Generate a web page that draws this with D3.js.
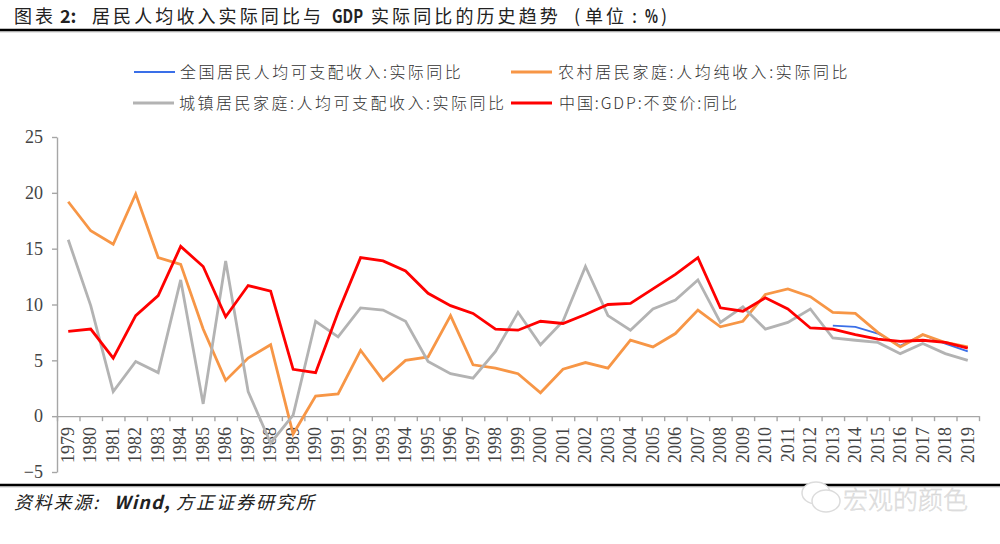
<!DOCTYPE html>
<html>
<head>
<meta charset="utf-8">
<script src="https://cdn.jsdelivr.net/npm/d3@7"></script>
<style>
  html, body { margin: 0; padding: 0; background: #fff; }
  text { font-family: "Noto Sans CJK SC", sans-serif; }
  .num text, text.num { font-family: "Liberation Serif", serif; }
</style>
</head>
<body>
<div id="chart"></div>
<script>
// values
const years = d3.range(1979, 2020).map(String);
const yTicks = [-5, 0, 5, 10, 15, 20, 25];

const national = [8.1, 8.0, 7.4, 6.3, 7.3, 6.5, 5.8];
const nationalYears = ['2013', '2014', '2015', '2016', '2017', '2018', '2019'];

const rural = [19.2, 16.6, 15.4, 19.9, 14.2, 13.6, 7.8, 3.2, 5.2, 6.4, -1.6, 1.8, 2.0, 5.9, 3.2, 5.0, 5.3, 9.0, 4.6, 4.3, 3.8,
  2.1, 4.2, 4.8, 4.3, 6.8, 6.2, 7.4, 9.5, 8.0, 8.5, 10.9, 11.4, 10.7, 9.3, 9.2, 7.5, 6.2, 7.3, 6.6, 6.2];
const urban = [15.8, 9.9, 2.2, 4.9, 3.9, 12.2, 1.1, 13.9, 2.2, -2.4, 0.1, 8.5, 7.1, 9.7, 9.5, 8.5, 4.9, 3.8, 3.4, 5.8, 9.3,
  6.4, 8.5, 13.4, 9.0, 7.7, 9.6, 10.4, 12.2, 8.4, 9.8, 7.8, 8.4, 9.6, 7.0, 6.8, 6.6, 5.6, 6.5, 5.6, 5.0];
const gdp = [7.6, 7.8, 5.2, 9.0, 10.8, 15.2, 13.4, 8.9, 11.7, 11.2, 4.2, 3.9, 9.3, 14.2, 13.9, 13.0, 11.0, 9.9, 9.2, 7.8, 7.7,
  8.5, 8.3, 9.1, 10.0, 10.1, 11.4, 12.7, 14.2, 9.7, 9.4, 10.6, 9.6, 7.9, 7.8, 7.3, 6.9, 6.7, 6.8, 6.6, 6.1];

const w = 1000;
const h = 544;
const svg = d3.select('#chart').append('svg')
  .attr('width', w)
  .attr('height', h)
  .style('display', 'block');

const x = d3.scaleBand().domain(years).range([57, 979]);
const y = d3.scaleLinear().domain([-5, 25]).range([472, 137]);
const grey = '#a6a6a6';

// title pieces, the latin bits are narrower than the chinese
const titleParts = [
  { t: '图表', x: 14 }, { t: '2:', x: 60, b: true }, { t: '居民人均收入实际同比与', x: 92 },
  { t: 'GDP', x: 332, b: true, len: 31 }, { t: '实际同比的历史趋势', x: 371 },
  { t: '(', x: 574 }, { t: '单位', x: 585 }, { t: ':', x: 632 }, { t: '%', x: 645, b: true, len: 13 }, { t: ')', x: 661 }
];
svg.selectAll('text.title')
  .data(titleParts)
  .enter()
  .append('text')
  .attr('class', 'title')
  .attr('x', function(d) { return d.x; })
  .attr('y', 23)
  .attr('font-size', 18)
  .attr('font-weight', function(d) { return d.b ? 700 : 400; })
  .attr('fill', '#222')
  .attr('letter-spacing', function(d) { return d.b ? 0 : 3.1; })
  .attr('textLength', function(d) { return d.len || null; })
  .attr('lengthAdjust', function(d) { return d.len ? 'spacingAndGlyphs' : null; })
  .text(function(d) { return d.t; });

[30, 485].forEach(function(ry) {
  svg.append('line').attr('x1', 0).attr('x2', w).attr('y1', ry + 2).attr('y2', ry + 2)
    .attr('stroke', '#ccc').attr('stroke-width', 1);
  svg.append('line').attr('x1', 0).attr('x2', w).attr('y1', ry).attr('y2', ry)
    .attr('stroke', '#000').attr('stroke-width', 2.6);
});

// y axis
const yAxis = svg.append('g').attr('class', 'num')
  .attr('transform', 'translate(57,0)')
  .call(d3.axisLeft(y).tickValues(yTicks).tickSize(5).tickPadding(9).tickSizeOuter(0)
    .tickFormat(function(d) { return d < 0 ? '\u2212' + Math.abs(d) : d; }));
yAxis.selectAll('path, line').attr('stroke', grey).attr('stroke-width', 1.4);
yAxis.selectAll('text').attr('font-size', 18).attr('fill', '#444');

// x axis sits on zero, ticks fall on the category edges
const edges = d3.scaleLinear().domain([0, years.length]).range(x.range());
const xAxis = svg.append('g')
  .attr('transform', 'translate(0,' + y(0) + ')')
  .call(d3.axisBottom(edges).tickValues(d3.range(years.length + 1)).tickSize(5).tickSizeOuter(0).tickFormat(''));
xAxis.selectAll('path, line').attr('stroke', grey).attr('stroke-width', 1.4);

// year labels stay low, next to the bottom of the plot
const xLabels = svg.append('g').attr('class', 'num')
  .attr('transform', 'translate(0,424)')
  .call(d3.axisBottom(x).tickSize(0).tickPadding(0));
xLabels.select('path').remove();
xLabels.selectAll('text')
  .attr('font-size', 18).attr('fill', '#444')
  .attr('transform', 'rotate(-90)')
  .attr('text-anchor', 'end')
  .attr('x', -3).attr('y', 0).attr('dy', '0.32em');

// series
const line = d3.line()
  .x(function(d) { return x(d.year) + x.bandwidth() / 2; })
  .y(function(d) { return y(d.value); });
function rows(keys, vals) {
  return keys.map(function(k, i) { return { year: k, value: vals[i] }; });
}
const series = [
  { name: '全国居民人均可支配收入:实际同比', vals: rows(nationalYears, national), color: '#3a6fe8', width: 1.8, lx: 134, tx: 180, ly: 72, sp: 2.45 },
  { name: '农村居民家庭:人均纯收入:实际同比', vals: rows(years, rural), color: '#f79646', width: 2.8, lx: 511, tx: 558, ly: 72, sp: 2.6 },
  { name: '城镇居民家庭:人均可支配收入:实际同比', vals: rows(years, urban), color: '#b3b3b3', width: 2.8, lx: 133, tx: 179, ly: 103, sp: 2.5 },
  { name: '中国:GDP:不变价:同比', vals: rows(years, gdp), color: '#ff0000', width: 2.8, lx: 511, tx: 559, ly: 103, sp: 1.9 }
];

svg.selectAll('path.series')
  .data(series)
  .enter()
  .append('path')
  .attr('class', 'series')
  .attr('fill', 'none')
  .attr('stroke-linejoin', 'miter')
  .attr('stroke', function(d) { return d.color; })
  .attr('stroke-width', function(d) { return d.width; })
  .attr('d', function(d) { return line(d.vals); });

// legend
const legend = svg.selectAll('g.legend')
  .data(series)
  .enter()
  .append('g')
  .attr('class', 'legend');
legend.append('line')
  .attr('x1', function(d) { return d.lx; })
  .attr('x2', function(d) { return d.lx + 41; })
  .attr('y1', function(d) { return d.ly; })
  .attr('y2', function(d) { return d.ly; })
  .attr('stroke', function(d) { return d.color; })
  .attr('stroke-width', function(d) { return d.width; });
legend.append('text')
  .attr('x', function(d) { return d.tx; })
  .attr('y', function(d) { return d.ly + 6; })
  .attr('font-size', 16)
  .attr('font-weight', 300)
  .attr('fill', '#333')
  .attr('letter-spacing', function(d) { return d.sp; })
  .text(function(d) { return d.name; });

// source line
const sourceParts = [
  { t: '资料来源:', x: 14, sp: 1.8 }, { t: 'Wind,', x: 114, sp: 1.2, b: true }, { t: '方正证券研究所', x: 176, sp: 2 }
];
svg.selectAll('text.source')
  .data(sourceParts)
  .enter()
  .append('text')
  .attr('class', 'source')
  .attr('x', function(d) { return d.x; })
  .attr('y', 509)
  .attr('font-size', 18)
  .attr('font-style', 'italic')
  .attr('font-weight', function(d) { return d.b ? 700 : 400; })
  .attr('fill', '#222')
  .attr('letter-spacing', function(d) { return d.sp; })
  .text(function(d) { return d.t; });

// watermark
const mark = svg.append('g').attr('fill', '#fff').attr('stroke', '#dcdcdc').attr('stroke-width', 1.5);
mark.append('ellipse').attr('cx', 816).attr('cy', 493).attr('rx', 14).attr('ry', 11);
mark.append('ellipse').attr('cx', 826).attr('cy', 501).attr('rx', 14).attr('ry', 11);
svg.append('text')
  .attr('x', 843).attr('y', 509)
  .attr('font-size', 25).attr('font-weight', 300)
  .attr('fill', '#e2e2e2').attr('stroke', '#d0d0d0').attr('stroke-width', 0.3)
  .text('宏观的颜色');
</script>
</body>
</html>
